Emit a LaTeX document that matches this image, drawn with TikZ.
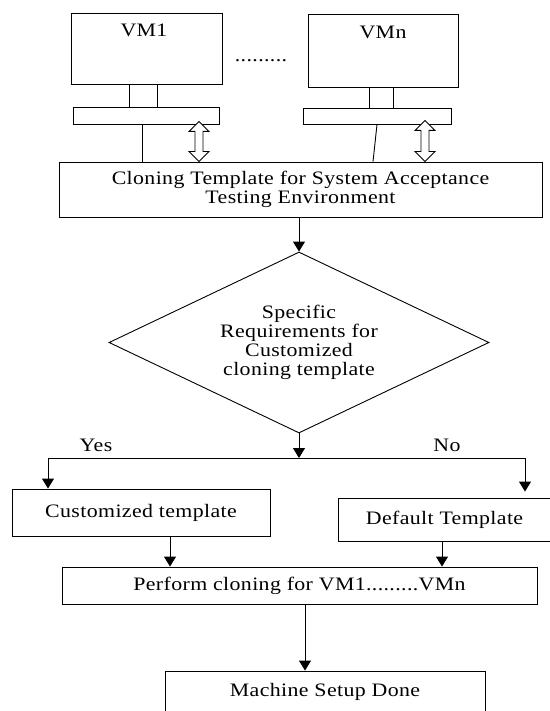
\documentclass[tikz,border=0pt]{standalone}
\usepackage{fontspec}
\setmainfont{Liberation Serif}[FakeStretch=1.15,LetterSpace=2]
\usetikzlibrary{arrows.meta,calc,shapes.geometric}

% hollow vertical double-headed arrow between two points
\newcommand\hollowdouble[2]{%
  \draw[thinline,fill=white] (#1) -- ($(#1)+(10,10)$) -- ($(#1)+(4,10)$)
    -- ($(#2)+(4,-10)$) -- ($(#2)+(10,-10)$) -- (#2)
    -- ($(#2)+(-10,-10)$) -- ($(#2)+(-4,-10)$)
    -- ($(#1)+(-4,10)$) -- ($(#1)+(-10,10)$) -- cycle;}

\begin{document}
\begin{tikzpicture}[
  x=1pt, y=-1pt,
  font=\fontsize{19}{18.5}\selectfont,
  thinline/.style={line width=0.9pt, draw=black},
  box/.style={thinline, draw, rectangle, inner sep=0pt, align=center},
  txt/.style={inner sep=0pt, text height=12pt, text depth=4pt},
  arr/.style={thinline, -{Triangle[width=12pt,length=10pt]}},
]
\useasboundingbox (0,0) rectangle (549,711);

% virtual machines with their stands
\node[box, minimum width=151pt, minimum height=71pt] (vm1) at (146.5,48.5) {};
\node[txt] (vm1lbl) at (144,33) {VM1};
\node[box, minimum width=146pt, minimum height=17pt] (p1) at (146,115.5) {};
\node[box, minimum width=150pt, minimum height=73pt] (vmn) at (383,50.5) {};
\node[txt] (vmnlbl) at (383,35) {VMn};
\node[box, minimum width=148pt, minimum height=16pt] (pn) at (377,116) {};
\node[txt] (dots) at (261,58) {.........};

\draw[thinline] ([xshift=-17.5pt]vm1.south) -- ([xshift=-17.5pt]vm1.south |- p1.north);
\draw[thinline] ([xshift=10.5pt]vm1.south) -- ([xshift=10.5pt]vm1.south |- p1.north);
\draw[thinline] ([xshift=-14pt]vmn.south) -- ([xshift=-14pt]vmn.south |- pn.north);
\draw[thinline] ([xshift=10pt]vmn.south) -- ([xshift=10pt]vmn.south |- pn.north);

% cloning template
\node[box, minimum width=483pt, minimum height=55pt] (cl) at (300.5,189.5)
  {Cloning Template for System Acceptance\\Testing Environment};

\draw[thinline] ([xshift=-4pt]p1.south) -- ([xshift=-4pt]p1.south |- cl.north);
\draw[thinline] (pn.south) -- ([xshift=-4pt]pn.south |- cl.north);

\coordinate (a1t) at ([xshift=53pt,yshift=3pt]p1.south);
\coordinate (a1b) at (a1t |- cl.north);
\hollowdouble{a1t}{a1b}
\coordinate (ant) at ([xshift=48pt,yshift=4pt]pn.south);
\coordinate (anb) at (ant |- cl.north);
\hollowdouble{ant}{anb}

% decision
\node[thinline, draw, diamond, shape aspect=2.1, inner sep=0pt,
      minimum width=380pt, minimum height=181pt, align=center,
      font=\fontsize{19}{19}\selectfont] (d) at (299,342.5)
  {Specific\\Requirements for\\Customized\\cloning template};
\draw[arr] (cl.south -| d.north) -- (d.north);

\coordinate (j) at (299,458);
\coordinate (yesc) at (48,458);
\coordinate (noc) at (525,458);
\draw[arr] (d.south) -- (j);
\draw[thinline] (yesc) -- (noc);
\node[txt] (yes) at (96,447) {Yes};
\node[txt] (no) at (447,447) {No};

% branches
\node[box, minimum width=258pt, minimum height=47pt] (cu) at (141,512.5) {Customized template};
\node[box, minimum width=213pt, minimum height=43pt] (df) at (444.5,519.5) {Default Template};
\draw[arr] (yesc) -- (yesc |- cu.north);
\draw[arr, shorten >=6pt] (noc) -- (noc |- df.north);

% cloning and result
\node[box, minimum width=475pt, minimum height=37pt] (pf) at (299.5,585.5)
  {Perform cloning for VM1.........VMn};
\draw[arr] ([xshift=29pt]cu.south) -- ([xshift=29pt]cu.south |- pf.north);
\draw[arr] ([xshift=-2.5pt]df.south) -- ([xshift=-2.5pt]df.south |- pf.north);

\node[box, minimum width=320pt, minimum height=52pt] (ms) at (325,697) {};
\node[txt] (mslbl) at (325,692) {Machine Setup Done};
\draw[arr] ([xshift=5.5pt]pf.south) -- ([xshift=5.5pt]pf.south |- ms.north);
\end{tikzpicture}
\end{document}
